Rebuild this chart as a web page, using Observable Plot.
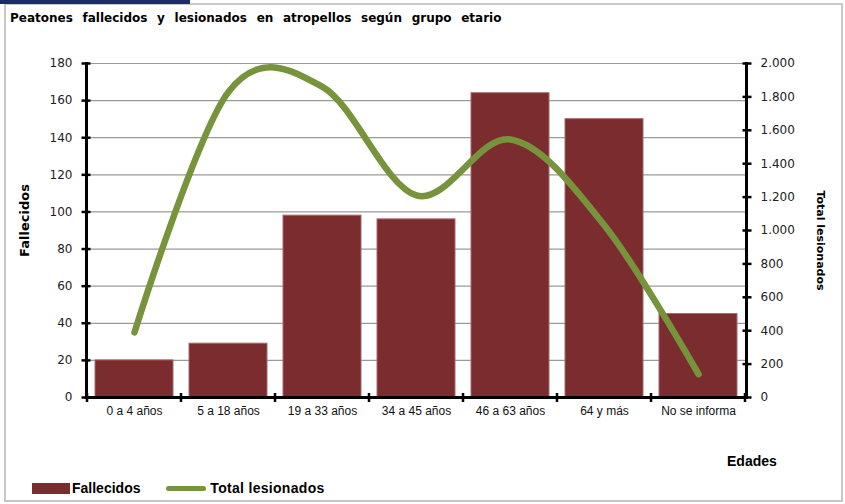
<!DOCTYPE html>
<html><head><meta charset="utf-8">
<script src="https://cdn.jsdelivr.net/npm/d3@7"></script>
<script src="https://cdn.jsdelivr.net/npm/@observablehq/plot@0.6"></script>
<style>
body{margin:0;background:#fff;}
#wrap{position:relative;width:845px;height:504px;overflow:hidden;background:#fff;}
#frame{position:absolute;left:4px;top:3px;width:835px;height:495px;border:2px solid #c8c8c8;}
#bluebar{position:absolute;left:0;top:0;width:190px;height:4px;background:#1c2b6b;}
#title{position:absolute;left:10px;top:11px;font:bold 12px "DejaVu Sans",sans-serif;word-spacing:5.5px;color:#000;white-space:nowrap;}
#chart{position:absolute;left:0;top:40px;}
.ylab{position:absolute;font:bold 13px "DejaVu Sans",sans-serif;color:#000;white-space:nowrap;}
#ylR{font-size:11px;}
#edades{position:absolute;left:727px;top:453px;font:bold 14px "Liberation Sans",sans-serif;color:#000;}
#legend{position:absolute;left:32px;top:479px;font:bold 14px "Liberation Sans",sans-serif;color:#000;white-space:nowrap;}
#legend span{display:inline-block;vertical-align:middle;}
</style>
</head><body>
<div id="wrap">
  <div id="frame"></div>
  <div id="bluebar"></div>
  <div id="title">Peatones fallecidos y lesionados en atropellos según grupo etario</div>
  <div id="chart"></div>
  <div class="ylab" id="ylL">Fallecidos</div>
  <div class="ylab" id="ylR">Total lesionados</div>
  <div id="edades">Edades</div>
  <div id="legend">
    <span style="width:38px;height:11px;background:#7b2c2f;"></span><span style="margin-left:2px;">Fallecidos</span>
    <span style="width:40px;height:5px;border-radius:3px;background:#77933c;margin-left:22px;"></span><span style="margin-left:4px;letter-spacing:0.3px;">Total lesionados</span>
  </div>
</div>
<script>
const categories = ["0 a 4 años","5 a 18 años","19 a 33 años","34 a 45 años","46 a 63 años","64 y más","No se informa"];
const fallecidos = [20, 29, 98, 96, 164, 150, 45];
const lesionados = [390, 1830, 1860, 1210, 1545, 1030, 140];
const fallTicks = [0,20,40,60,80,100,120,140,160,180];
const lesTicks = [0,200,400,600,800,1000,1200,1400,1600,1800,2000];
const lesTickLabels = ["0","200","400","600","800","1.000","1.200","1.400","1.600","1.800","2.000"];

const fallMax = 180, lesMax = 2000;
const ratio = fallMax / lesMax;
const data = categories.map((c, i) => ({cat: c, fall: fallecidos[i], les: lesionados[i]}));
const rightVals = lesTicks.map(v => v * ratio);

const plot = Plot.plot({
  width: 845, height: 400,
  marginLeft: 86, marginRight: 99, marginTop: 23, marginBottom: 43,
  style: {fontFamily: "DejaVu Sans, sans-serif", fontSize: "12px", color: "#000", background: "transparent"},
  x: {type: "band", domain: categories, paddingInner: 0.17, paddingOuter: 0.085, label: null},
  y: {domain: [0, fallMax], label: null},
  marks: [
    Plot.gridY(fallTicks, {stroke: "#9a9a9a", strokeOpacity: 1, strokeWidth: 1.2}),
    Plot.barY(data, {x: "cat", y: "fall", fill: "#7b2c2f", stroke: "#a86a6c", strokeWidth: 1}),
    Plot.line(data, {x: "cat", y: d => d.les * ratio, stroke: "#77933c", strokeWidth: 6.5, curve: "cardinal", tension: 0, strokeLinecap: "round", strokeLinejoin: "round"}),
    Plot.ruleY([0], {stroke: "#000", strokeWidth: 3}),
    Plot.frame({anchor: "left", stroke: "#000", strokeWidth: 3}),
    Plot.frame({anchor: "right", stroke: "#000", strokeWidth: 3}),
    Plot.axisY(fallTicks, {anchor: "left", tickSize: 9, dx: 4.5, strokeWidth: 2.5, tickFormat: () => "", label: null}),
    Plot.axisY(fallTicks, {anchor: "left", tickSize: 0, tickPadding: 14, label: null, fill: "#222"}),
    Plot.axisY(rightVals, {anchor: "right", tickSize: 9, dx: -4.5, strokeWidth: 2.5, tickFormat: () => "", label: null}),
    Plot.axisY(rightVals, {anchor: "right", tickSize: 0, tickPadding: 14, label: null, fill: "#222", tickFormat: v => lesTickLabels[rightVals.indexOf(v)]}),
    Plot.axisX({tickSize: 0, tickPadding: 9, label: null, fontFamily: "Liberation Sans, sans-serif", fontSize: 12, fill: "#111"})
  ]
});
document.getElementById("chart").appendChild(plot);

// category boundary ticks on the x axis, from the plot's own x scale
const xs = plot.scale("x");
const ys = plot.scale("y");
const gap = xs.step - xs.bandwidth;
const bounds = categories.map(c => xs.apply(c) - gap / 2);
bounds.push(xs.apply(categories[categories.length - 1]) + xs.bandwidth + gap / 2);
const y0 = ys.apply(0);
const g = d3.select(plot).append("g");
g.selectAll("line").data(bounds).join("line")
  .attr("x1", d => d).attr("x2", d => d)
  .attr("y1", y0 - 4).attr("y2", y0 + 5)
  .attr("stroke", "#000").attr("stroke-width", 2.5);

// axis titles
const l = document.getElementById("ylL");
l.style.left = (24 - l.offsetWidth / 2) + "px";
l.style.top = (220 - l.offsetHeight / 2) + "px";
l.style.transform = "rotate(-90deg)";
const r = document.getElementById("ylR");
r.style.left = (820 - r.offsetWidth / 2) + "px";
r.style.top = (240 - r.offsetHeight / 2) + "px";
r.style.transform = "rotate(90deg)";
</script>
</body></html>
